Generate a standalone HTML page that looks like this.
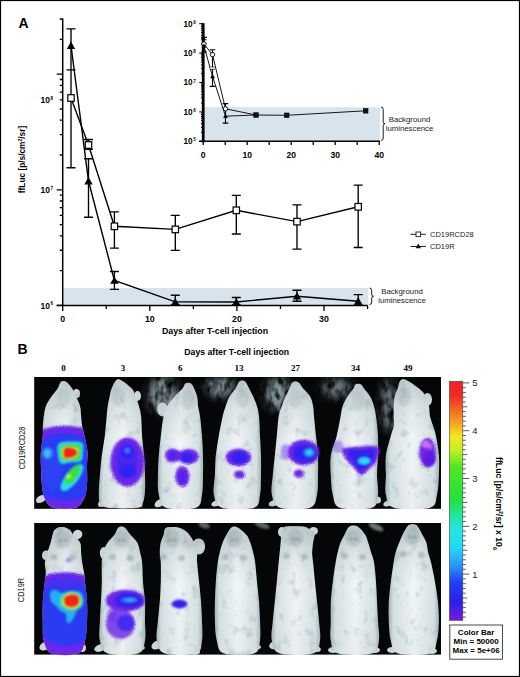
<!DOCTYPE html><html><head><meta charset="utf-8"><style>html,body{margin:0;padding:0;background:#fff;overflow:hidden}svg{display:block}text{font-family:"Liberation Sans",sans-serif}</style></head><body>
<svg width="520" height="677" viewBox="0 0 520 677">
<rect x="0" y="0" width="520" height="677" fill="#fff"/>
<rect x="62.7" y="288" width="305.6" height="17.4" fill="#d8e4ed"/>
<line x1="62.7" y1="18.5" x2="62.7" y2="306.15" stroke="#000" stroke-width="1.5"/>
<path d="M56.7,305.4H62.7M59.7,270.6H62.7M59.7,250.24H62.7M59.7,235.8H62.7M59.7,224.6H62.7M59.7,215.45H62.7M59.7,207.71H62.7M59.7,201H62.7M59.7,195.09H62.7M56.7,189.8H62.7M59.7,155H62.7M59.7,134.64H62.7M59.7,120.2H62.7M59.7,109H62.7M59.7,99.85H62.7M59.7,92.11H62.7M59.7,85.4H62.7M59.7,79.49H62.7M56.7,74.2H62.7M59.7,39.4H62.7M59.7,19.04H62.7M59.7,18.9H62.7" stroke="#000" stroke-width="1.3" fill="none"/>
<line x1="56.7" y1="305.4" x2="367.5" y2="305.4" stroke="#000" stroke-width="1.5"/>
<path d="M62.7,305.4V310.9M106.25,305.4V308.9M149.8,305.4V310.9M193.35,305.4V308.9M236.9,305.4V310.9M280.45,305.4V308.9M324,305.4V310.9M367.55,305.4V308.9" stroke="#000" stroke-width="1.3" fill="none"/>
<text x="62.7" y="322.3" font-size="8.8" font-weight="bold" text-anchor="middle">0</text>
<text x="149.8" y="322.3" font-size="8.8" font-weight="bold" text-anchor="middle">10</text>
<text x="236.9" y="322.3" font-size="8.8" font-weight="bold" text-anchor="middle">20</text>
<text x="324" y="322.3" font-size="8.8" font-weight="bold" text-anchor="middle">30</text>
<text x="49.9" y="308.6" font-size="8.5" font-weight="bold" text-anchor="end">10</text><text x="50.6" y="305.1" font-size="4.5" font-weight="bold">6</text>
<text x="49.9" y="193" font-size="8.5" font-weight="bold" text-anchor="end">10</text><text x="50.6" y="189.5" font-size="4.5" font-weight="bold">7</text>
<text x="49.9" y="103" font-size="8.5" font-weight="bold" text-anchor="end">10</text><text x="50.6" y="99.5" font-size="4.5" font-weight="bold">8</text>
<text x="215" y="333.5" font-size="8.8" font-weight="bold" text-anchor="middle">Days after T-cell injection</text>
<text transform="translate(25,159.5) rotate(-90)" font-size="8.3" font-weight="bold" text-anchor="middle">ffLuc [p/s/cm<tspan font-size="5" dy="-3">2</tspan><tspan dy="3">/sr]</tspan></text>
<path d="M71,28.9V167.7M66.5,28.9H75.5M66.5,167.7H75.5M71,28.9V69.9M66.5,28.9H75.5M66.5,69.9H75.5M88.5,139.5V149.3M84,139.5H93M84,149.3H93M88.5,158.7V217.2M84,158.7H93M84,217.2H93M114.4,211.9V248.1M109.9,211.9H118.9M109.9,248.1H118.9M114.4,271.5V289.4M109.9,271.5H118.9M109.9,289.4H118.9M175.3,215.4V250.4M170.8,215.4H179.8M170.8,250.4H179.8M175.3,295.2V305M170.8,295.2H179.8M170.8,305H179.8M236.3,195.4V234M231.8,195.4H240.8M231.8,234H240.8M236.3,297.5V305M231.8,297.5H240.8M231.8,305H240.8M297,204.9V249.1M292.5,204.9H301.5M292.5,249.1H301.5M297,290.2V301.2M292.5,290.2H301.5M292.5,301.2H301.5M358.2,185.1V247.5M353.7,185.1H362.7M353.7,247.5H362.7M358.2,294.6V305M353.7,294.6H362.7M353.7,305H362.7" stroke="#000" stroke-width="1.35" fill="none"/>
<polyline points="71,98 88.5,145 114.4,226.3 175.3,229.4 236.3,210.3 297,221.6 358.2,206.8" stroke="#000" stroke-width="1.4" fill="none"/>
<polyline points="71,45.5 88.5,181 114.4,280.4 175.3,301.9 236.3,302 297,296.2 358.2,301.2" stroke="#000" stroke-width="1.4" fill="none"/>
<rect x="67.8" y="94.7" width="6.4" height="6.6" fill="#fff" stroke="#000" stroke-width="1.2"/>
<rect x="85.3" y="141.7" width="6.4" height="6.6" fill="#fff" stroke="#000" stroke-width="1.2"/>
<rect x="111.2" y="223" width="6.4" height="6.6" fill="#fff" stroke="#000" stroke-width="1.2"/>
<rect x="172.1" y="226.1" width="6.4" height="6.6" fill="#fff" stroke="#000" stroke-width="1.2"/>
<rect x="233.1" y="207" width="6.4" height="6.6" fill="#fff" stroke="#000" stroke-width="1.2"/>
<rect x="293.8" y="218.3" width="6.4" height="6.6" fill="#fff" stroke="#000" stroke-width="1.2"/>
<rect x="355" y="203.5" width="6.4" height="6.6" fill="#fff" stroke="#000" stroke-width="1.2"/>
<path d="M71,41.5L75.2,48.9L66.8,48.9Z" fill="#000"/>
<path d="M88.5,177L92.7,184.4L84.3,184.4Z" fill="#000"/>
<path d="M114.4,276.4L118.6,283.8L110.2,283.8Z" fill="#000"/>
<path d="M175.3,297.9L179.5,305.3L171.1,305.3Z" fill="#000"/>
<path d="M236.3,298L240.5,305.4L232.1,305.4Z" fill="#000"/>
<path d="M297,292.2L301.2,299.6L292.8,299.6Z" fill="#000"/>
<path d="M358.2,297.2L362.4,304.6L354,304.6Z" fill="#000"/>
<path d="M410.5,234.3H425.8M410.5,246.5H425.8" stroke="#222" stroke-width="1"/>
<rect x="416" y="232" width="4.6" height="4.6" fill="#fff" stroke="#222" stroke-width="0.9"/>
<path d="M418.3,243.6L421,248.3L415.6,248.3Z" fill="#111"/>
<text x="430" y="237.2" font-size="7.5" fill="#222">CD19RCD28</text>
<text x="430" y="249.4" font-size="7.5" fill="#222">CD19R</text>
<path d="M369.5,288 Q371.7,288 371.7,290.5 L371.7,294.25 Q371.7,296.25 373.5,296.25 Q371.7,296.25 371.7,298.25 L371.7,302 Q371.7,304.5 369.5,304.5" stroke="#000" stroke-width="0.9" fill="none"/>
<text x="402" y="294.4" font-size="7.8" text-anchor="middle" fill="#222">Background</text>
<text x="402" y="303.2" font-size="7.8" text-anchor="middle" fill="#222">luminescence</text>
<text x="18.6" y="28" font-size="14" font-weight="bold">A</text>
<rect x="203.2" y="107.2" width="176.8" height="34.1" fill="#d8e4ed"/>
<line x1="203.2" y1="23.2" x2="203.2" y2="142.3" stroke="#000" stroke-width="2.8"/>
<path d="M199.2,141.3H203.2M201,132.45H203.2M201,127.27H203.2M201,123.6H203.2M201,120.75H203.2M201,118.42H203.2M201,116.45H203.2M201,114.75H203.2M201,113.25H203.2M199.2,111.9H203.2M201,103.05H203.2M201,97.87H203.2M201,94.2H203.2M201,91.35H203.2M201,89.02H203.2M201,87.05H203.2M201,85.35H203.2M201,83.85H203.2M199.2,82.5H203.2M201,73.65H203.2M201,68.47H203.2M201,64.8H203.2M201,61.95H203.2M201,59.62H203.2M201,57.65H203.2M201,55.95H203.2M201,54.45H203.2M199.2,53.1H203.2M201,44.25H203.2M201,39.07H203.2M201,35.4H203.2M201,32.55H203.2M201,30.22H203.2M201,28.25H203.2M201,26.55H203.2M201,25.05H203.2M199.2,23.7H203.2" stroke="#000" stroke-width="1" fill="none"/>
<line x1="199.2" y1="141.3" x2="380" y2="141.3" stroke="#000" stroke-width="1.6"/>
<path d="M203.2,141.3V145.1M225.2,141.3V145.1M247.2,141.3V145.1M269.2,141.3V145.1M291.2,141.3V145.1M313.2,141.3V145.1M335.2,141.3V145.1M357.2,141.3V145.1M379.2,141.3V145.1" stroke="#000" stroke-width="1.3" fill="none"/>
<text x="203.2" y="157.6" font-size="8.6" font-weight="bold" text-anchor="middle">0</text>
<text x="247.2" y="157.6" font-size="8.6" font-weight="bold" text-anchor="middle">10</text>
<text x="291.2" y="157.6" font-size="8.6" font-weight="bold" text-anchor="middle">20</text>
<text x="335.2" y="157.6" font-size="8.6" font-weight="bold" text-anchor="middle">30</text>
<text x="379.2" y="157.6" font-size="8.6" font-weight="bold" text-anchor="middle">40</text>
<text x="192.6" y="144.2" font-size="8.2" font-weight="bold" text-anchor="end">10</text><text x="193.2" y="141.3" font-size="4.5" font-weight="bold">5</text>
<text x="192.6" y="114.8" font-size="8.2" font-weight="bold" text-anchor="end">10</text><text x="193.2" y="111.9" font-size="4.5" font-weight="bold">6</text>
<text x="192.6" y="85.4" font-size="8.2" font-weight="bold" text-anchor="end">10</text><text x="193.2" y="82.5" font-size="4.5" font-weight="bold">7</text>
<text x="192.6" y="56" font-size="8.2" font-weight="bold" text-anchor="end">10</text><text x="193.2" y="53.1" font-size="4.5" font-weight="bold">8</text>
<text x="192.6" y="26.6" font-size="8.2" font-weight="bold" text-anchor="end">10</text><text x="193.2" y="23.7" font-size="4.5" font-weight="bold">9</text>
<polyline points="204,44 212.5,54.6 225.5,108.8 256,115 286.7,115.3 365.7,110.8" stroke="#000" stroke-width="0.9" fill="none"/>
<polyline points="204,46 212.5,76.4 225.5,116.2 256,115" stroke="#000" stroke-width="0.9" fill="none"/>
<path d="M204,37.4V52M201.2,37.4H206.8M201.2,52H206.8M212.5,49.8V86.4M209.7,49.8H215.3M209.7,86.4H215.3M225.5,103.6V123.1M222.7,103.6H228.3M222.7,123.1H228.3M201.5,39.8H206.5M209.7,67.2H215.3M209.7,69H215.3" stroke="#000" stroke-width="1.1" fill="none"/>
<rect x="210" y="67.4" width="5" height="1.4" fill="#fff"/>
<circle cx="204" cy="44" r="2.2" fill="#fff" stroke="#000" stroke-width="0.9"/>
<circle cx="212.5" cy="54.6" r="2.2" fill="#fff" stroke="#000" stroke-width="0.9"/>
<circle cx="225.5" cy="108.8" r="2.2" fill="#fff" stroke="#000" stroke-width="0.9"/>
<path d="M204,43.4L206.4,47.8L201.6,47.8Z" fill="#000"/>
<path d="M212.5,73.8L214.9,78.2L210.1,78.2Z" fill="#000"/>
<path d="M225.5,113.6L227.9,118L223.1,118Z" fill="#000"/>
<rect x="253.7" y="112.7" width="4.6" height="4.6" fill="#111" stroke="#000" stroke-width="0.6"/>
<rect x="284.4" y="113" width="4.6" height="4.6" fill="#111" stroke="#000" stroke-width="0.6"/>
<rect x="363.4" y="108.5" width="4.6" height="4.6" fill="#111" stroke="#000" stroke-width="0.6"/>
<path d="M381,107 Q383.2,107 383.2,109.5 L383.2,121.75 Q383.2,123.75 385,123.75 Q383.2,123.75 383.2,125.75 L383.2,138 Q383.2,140.5 381,140.5" stroke="#000" stroke-width="0.9" fill="none"/>
<text x="409.5" y="121.5" font-size="7.8" text-anchor="middle" fill="#222">Background</text>
<text x="409.5" y="131" font-size="7.8" text-anchor="middle" fill="#222">luminescence</text>
<text x="17.4" y="354.2" font-size="14" font-weight="bold">B</text>
<text x="236.7" y="355.2" font-size="8.7" font-weight="bold" text-anchor="middle">Days after T-cell injection</text>
<text x="63.5" y="371" font-size="9" font-weight="bold" text-anchor="middle" style="font-family:'Liberation Serif',serif">0</text>
<text x="123" y="371" font-size="9" font-weight="bold" text-anchor="middle" style="font-family:'Liberation Serif',serif">3</text>
<text x="180.2" y="371" font-size="9" font-weight="bold" text-anchor="middle" style="font-family:'Liberation Serif',serif">6</text>
<text x="239" y="371" font-size="9" font-weight="bold" text-anchor="middle" style="font-family:'Liberation Serif',serif">13</text>
<text x="295.5" y="371" font-size="9" font-weight="bold" text-anchor="middle" style="font-family:'Liberation Serif',serif">27</text>
<text x="355.4" y="371" font-size="9" font-weight="bold" text-anchor="middle" style="font-family:'Liberation Serif',serif">34</text>
<text x="408" y="371" font-size="9" font-weight="bold" text-anchor="middle" style="font-family:'Liberation Serif',serif">49</text>
<text transform="translate(24.9,448) rotate(-90)" font-size="8.6" text-anchor="middle" textLength="42.5" lengthAdjust="spacingAndGlyphs" fill="#111">CD19RCD28</text>
<text transform="translate(24.2,590) rotate(-90)" font-size="8.2" text-anchor="middle" textLength="24.5" lengthAdjust="spacingAndGlyphs" fill="#111">CD19R</text>
<defs>
<filter id="furf" x="-5%" y="-5%" width="110%" height="110%" color-interpolation-filters="sRGB"><feGaussianBlur in="SourceGraphic" stdDeviation="0.6" result="b"/><feTurbulence type="fractalNoise" baseFrequency="0.11 0.08" numOctaves="3" seed="5" result="n"/><feColorMatrix in="n" type="matrix" values="0 0 0 0 0.58  0 0 0 0 0.66  0 0 0 0 0.68  -1.4 0 0 0 0.62" result="dk"/><feComposite in="dk" in2="b" operator="in" result="d2"/><feMerge><feMergeNode in="b"/><feMergeNode in="d2"/></feMerge></filter>
<filter id="bl1" x="-40%" y="-40%" width="180%" height="180%"><feGaussianBlur stdDeviation="1.1"/></filter>
<filter id="bl2" x="-40%" y="-40%" width="180%" height="180%"><feGaussianBlur stdDeviation="1.8"/></filter>
<filter id="rag" x="-40%" y="-40%" width="180%" height="180%"><feTurbulence type="fractalNoise" baseFrequency="0.9" numOctaves="1" seed="2" result="t"/><feGaussianBlur in="SourceGraphic" stdDeviation="1" result="sb"/><feDisplacementMap in="sb" in2="t" scale="3" xChannelSelector="R" yChannelSelector="G" result="dm"/><feGaussianBlur in="dm" stdDeviation="0.35"/></filter>
<filter id="haze" x="-50%" y="-50%" width="200%" height="200%" color-interpolation-filters="sRGB"><feGaussianBlur in="SourceGraphic" stdDeviation="4" result="b"/><feTurbulence type="fractalNoise" baseFrequency="0.18 0.1" numOctaves="2" seed="9" result="n"/><feColorMatrix in="n" type="matrix" values="0 0 0 0 0.5  0 0 0 0 0.57  0 0 0 0 0.6  2.4 0 0 0 -0.5" result="na"/><feComposite in="na" in2="b" operator="in"/></filter>
<linearGradient id="cbar" x1="0" y1="0" x2="0" y2="1">
<stop offset="0" stop-color="#f0202a"/><stop offset="0.06" stop-color="#f02a24"/>
<stop offset="0.12" stop-color="#f26a22"/><stop offset="0.18" stop-color="#f7a820"/>
<stop offset="0.23" stop-color="#f5e820"/><stop offset="0.29" stop-color="#c0f020"/>
<stop offset="0.36" stop-color="#50e620"/><stop offset="0.5" stop-color="#20e240"/>
<stop offset="0.56" stop-color="#20e6a0"/><stop offset="0.62" stop-color="#22e6e0"/>
<stop offset="0.7" stop-color="#22d8f8"/><stop offset="0.78" stop-color="#2a8cf8"/>
<stop offset="0.84" stop-color="#2040f4"/><stop offset="0.92" stop-color="#2a20ec"/>
<stop offset="1" stop-color="#7a18dc"/></linearGradient>
<linearGradient id="furh" x1="0" y1="0" x2="1" y2="0">
<stop offset="0" stop-color="#a2b4b8"/><stop offset="0.1" stop-color="#d6e1e3"/><stop offset="0.5" stop-color="#f1f5f6"/><stop offset="0.9" stop-color="#d6e1e3"/><stop offset="1" stop-color="#a2b4b8"/></linearGradient>
<linearGradient id="furv" x1="0" y1="0" x2="0" y2="1">
<stop offset="0" stop-color="#7f9499" stop-opacity="0.42"/><stop offset="0.22" stop-color="#7f9499" stop-opacity="0.14"/><stop offset="0.45" stop-color="#7f9499" stop-opacity="0"/><stop offset="1" stop-color="#7f9499" stop-opacity="0.06"/></linearGradient>
<clipPath id="mc0"><path d="M66,381.8 C67.88,382.97 70.63,386.33 72.3,388.8 C73.97,391.27 74.7,393.67 76,396.6 C77.3,399.53 79.25,403.12 80.1,406.4 C80.95,409.68 80.77,413.03 81.1,416.3 C81.43,419.57 81.53,422.73 82.1,426 C82.67,429.27 83.6,431.63 84.5,435.9 C85.4,440.17 87.08,446.7 87.5,451.6 C87.92,456.5 87.08,459.73 87,465.3 C86.92,470.87 87.5,479.43 87,485 C86.5,490.57 85.97,494.9 84,498.7 C82.03,502.5 80.27,506.28 75.2,507.8 C70.13,509.32 58.67,509.32 53.6,507.8 C48.53,506.28 46.75,502.5 44.8,498.7 C42.85,494.9 42.55,490.57 41.9,485 C41.25,479.43 41.07,470.87 40.9,465.3 C40.73,459.73 40.58,456.5 40.9,451.6 C41.22,446.7 42.48,440.17 42.8,435.9 C43.12,431.63 42.63,429.27 42.8,426 C42.97,422.73 43.3,419.57 43.8,416.3 C44.3,413.03 44.52,409.68 45.8,406.4 C47.08,403.12 49.53,399.53 51.5,396.6 C53.47,393.67 56.02,391.27 57.6,388.8 C59.18,386.33 59.6,382.97 61,381.8 C62.4,380.63 64.12,380.63 66,381.8 Z"/></clipPath>
<clipPath id="mc1"><path d="M121.5,380.4 C124.17,381.8 129.67,386.1 132,388.8 C134.33,391.5 134.33,393.67 135.5,396.6 C136.67,399.53 138.07,403.12 139,406.4 C139.93,409.68 140.58,411.38 141.1,416.3 C141.62,421.22 141.62,429.37 142.1,435.9 C142.58,442.43 143.52,448.97 144,455.5 C144.48,462.03 144.83,469.22 145,475.1 C145.17,480.98 145.33,486.22 145,490.8 C144.67,495.38 144.17,499.77 143,502.6 C141.83,505.43 143.83,506.93 138,507.8 C132.17,508.67 114.35,508.67 108,507.8 C101.65,506.93 101.42,505.43 99.9,502.6 C98.38,499.77 98.9,495.38 98.9,490.8 C98.9,486.22 99.42,480.98 99.9,475.1 C100.38,469.22 100.98,462.03 101.8,455.5 C102.62,448.97 103.98,442.43 104.8,435.9 C105.62,429.37 106.22,421.22 106.7,416.3 C107.18,411.38 107.2,409.68 107.7,406.4 C108.2,403.12 109.05,399.53 109.7,396.6 C110.35,393.67 110.55,391.5 111.6,388.8 C112.65,386.1 114.35,381.8 116,380.4 C117.65,379 118.83,379 121.5,380.4 Z"/></clipPath>
<clipPath id="mc2"><path d="M191,383.4 C192.45,384.3 193.18,386.6 194.2,388.8 C195.22,391 196.45,393.67 197.1,396.6 C197.75,399.53 197.62,403.12 198.1,406.4 C198.58,409.68 199.35,411.38 200,416.3 C200.65,421.22 201.5,429.37 202,435.9 C202.5,442.43 202.83,448.97 203,455.5 C203.17,462.03 203.17,468.55 203,475.1 C202.83,481.65 203.17,489.35 202,494.8 C200.83,500.25 202,505.63 196,507.8 C190,509.97 172.2,509.97 166,507.8 C159.8,505.63 160.15,500.25 158.8,494.8 C157.45,489.35 157.9,481.65 157.9,475.1 C157.9,468.55 158.32,462.03 158.8,455.5 C159.28,448.97 160.02,442.43 160.8,435.9 C161.58,429.37 162.47,421.22 163.5,416.3 C164.53,411.38 165.17,409.68 167,406.4 C168.83,403.12 171.93,399.53 174.5,396.6 C177.07,393.67 180.57,391 182.4,388.8 C184.23,386.6 184.07,384.3 185.5,383.4 C186.93,382.5 189.55,382.5 191,383.4 Z"/></clipPath>
<clipPath id="mc3"><path d="M245,381.4 C246.62,382.63 247.85,386.27 249.2,388.8 C250.55,391.33 251.8,393.67 253.1,396.6 C254.4,399.53 256.02,403.12 257,406.4 C257.98,409.68 258.5,411.38 259,416.3 C259.5,421.22 259.67,429.37 260,435.9 C260.33,442.43 260.83,448.97 261,455.5 C261.17,462.03 261.17,468.55 261,475.1 C260.83,481.65 261.17,489.35 260,494.8 C258.83,500.25 260.33,505.63 254,507.8 C247.67,509.97 228.68,509.97 222,507.8 C215.32,505.63 215.08,500.25 213.9,494.8 C212.72,489.35 214.58,481.65 214.9,475.1 C215.22,468.55 215.15,462.03 215.8,455.5 C216.45,448.97 217.65,442.43 218.8,435.9 C219.95,429.37 221.57,421.22 222.7,416.3 C223.83,411.38 224.45,409.68 225.6,406.4 C226.75,403.12 227.95,399.53 229.6,396.6 C231.25,393.67 233.85,391.33 235.5,388.8 C237.15,386.27 237.92,382.63 239.5,381.4 C241.08,380.17 243.38,380.17 245,381.4 Z"/></clipPath>
<clipPath id="mc4"><path d="M298.5,382.4 C300.3,383.47 301.37,386.43 303.3,388.8 C305.23,391.17 308.47,393.67 310.1,396.6 C311.73,399.53 312.45,403.12 313.1,406.4 C313.75,409.68 313.52,411.38 314,416.3 C314.48,421.22 315.33,429.37 316,435.9 C316.67,442.43 317.67,448.97 318,455.5 C318.33,462.03 318.17,468.55 318,475.1 C317.83,481.65 318.33,489.35 317,494.8 C315.67,500.25 316.17,505.63 310,507.8 C303.83,509.97 286.35,509.97 280,507.8 C273.65,505.63 273.1,500.25 271.9,494.8 C270.7,489.35 272.32,481.65 272.8,475.1 C273.28,468.55 274.13,462.03 274.8,455.5 C275.47,448.97 276.15,442.43 276.8,435.9 C277.45,429.37 277.88,421.22 278.7,416.3 C279.52,411.38 280.55,409.68 281.7,406.4 C282.85,403.12 284.3,399.53 285.6,396.6 C286.9,393.67 288.35,391.17 289.5,388.8 C290.65,386.43 291,383.47 292.5,382.4 C294,381.33 296.7,381.33 298.5,382.4 Z"/></clipPath>
<clipPath id="mc5"><path d="M361,384.4 C362.45,385.13 362.68,386.77 364.2,388.8 C365.72,390.83 368.47,393.67 370.1,396.6 C371.73,399.53 373.02,403.12 374,406.4 C374.98,409.68 375.33,411.38 376,416.3 C376.67,421.22 377.67,429.37 378,435.9 C378.33,442.43 378.17,448.97 378,455.5 C377.83,462.03 377,468.55 377,475.1 C377,481.65 378.83,489.35 378,494.8 C377.17,500.25 378.33,505.63 372,507.8 C365.67,509.97 346.53,509.97 340,507.8 C333.47,505.63 334.33,500.25 332.8,494.8 C331.27,489.35 331.13,481.65 330.8,475.1 C330.47,468.55 329.82,462.03 330.8,455.5 C331.78,448.97 335.07,442.43 336.7,435.9 C338.33,429.37 339.62,421.22 340.6,416.3 C341.58,411.38 341.45,409.68 342.6,406.4 C343.75,403.12 345.7,399.53 347.5,396.6 C349.3,393.67 352.07,390.83 353.4,388.8 C354.73,386.77 354.23,385.13 355.5,384.4 C356.77,383.67 359.55,383.67 361,384.4 Z"/></clipPath>
<clipPath id="mc6"><path d="M407,380.4 C410.13,381.8 416.13,386.1 419.3,388.8 C422.47,391.5 424.38,393.67 426,396.6 C427.62,399.53 428.33,403.12 429,406.4 C429.67,409.68 429.33,413.03 430,416.3 C430.67,419.57 432,422.73 433,426 C434,429.27 435.02,430.98 436,435.9 C436.98,440.82 438.42,448.97 438.9,455.5 C439.38,462.03 439.22,468.55 438.9,475.1 C438.58,481.65 438.48,489.35 437,494.8 C435.52,500.25 437.17,505.63 430,507.8 C422.83,509.97 401.35,509.97 394,507.8 C386.65,505.63 387.25,500.25 385.9,494.8 C384.55,489.35 385.9,481.65 385.9,475.1 C385.9,468.55 385.08,462.03 385.9,455.5 C386.72,448.97 389.5,440.82 390.8,435.9 C392.1,430.98 393.22,429.27 393.7,426 C394.18,422.73 393.7,419.57 393.7,416.3 C393.7,413.03 393.53,409.68 393.7,406.4 C393.87,403.12 394.03,399.53 394.7,396.6 C395.37,393.67 396.73,391.5 397.7,388.8 C398.67,386.1 398.95,381.8 400.5,380.4 C402.05,379 403.87,379 407,380.4 Z"/></clipPath>
<clipPath id="mc7"><path d="M65,527.4 C66.96,527.89 68.9,529.13 70.23,530.36 C71.56,531.59 71.36,532.76 73,534.8 C74.64,536.84 78.75,539.67 80.1,542.6 C81.45,545.53 80.77,549.12 81.1,552.4 C81.43,555.68 81.62,559.02 82.1,562.3 C82.58,565.58 83.52,568.83 84,572.1 C84.48,575.37 84.5,577 85,581.9 C85.5,586.8 86.67,594.97 87,601.5 C87.33,608.03 87.33,614.55 87,621.1 C86.67,627.65 86.5,635.38 85,640.8 C83.5,646.22 83.5,651.47 78,653.6 C72.5,655.73 57.7,655.73 52,653.6 C46.3,651.47 45.33,646.22 43.8,640.8 C42.27,635.38 42.97,627.65 42.8,621.1 C42.63,614.55 42.47,608.03 42.8,601.5 C43.13,594.97 44.3,586.8 44.8,581.9 C45.3,577 45.8,575.37 45.8,572.1 C45.8,568.83 44.52,565.58 44.8,562.3 C45.08,559.02 46.52,555.68 47.5,552.4 C48.48,549.12 49.85,545.53 50.7,542.6 C51.55,539.67 52,536.84 52.6,534.8 C53.2,532.76 53.34,531.59 54.32,530.36 C55.3,529.13 56.72,527.89 58.5,527.4 C60.28,526.91 63.04,526.91 65,527.4 Z"/></clipPath>
<clipPath id="mc8"><path d="M124.5,527.4 C126.47,528.63 128.18,532.27 130.3,534.8 C132.42,537.33 135.57,539.67 137.2,542.6 C138.83,545.53 139.28,549.12 140.1,552.4 C140.92,555.68 141.62,557.38 142.1,562.3 C142.58,567.22 142.52,575.37 143,581.9 C143.48,588.43 144.67,594.97 145,601.5 C145.33,608.03 145,614.55 145,621.1 C145,627.65 146.17,635.38 145,640.8 C143.83,646.22 144.17,651.47 138,653.6 C131.83,655.73 114.35,655.73 108,653.6 C101.65,651.47 101.25,646.22 99.9,640.8 C98.55,635.38 99.73,627.65 99.9,621.1 C100.07,614.55 100.58,608.03 100.9,601.5 C101.22,594.97 101.65,588.43 101.8,581.9 C101.95,575.37 101.6,567.22 101.8,562.3 C102,557.38 102.02,555.68 103,552.4 C103.98,549.12 105.77,545.53 107.7,542.6 C109.63,539.67 112.8,537.33 114.6,534.8 C116.4,532.27 116.85,528.63 118.5,527.4 C120.15,526.17 122.53,526.17 124.5,527.4 Z"/></clipPath>
<clipPath id="mc9"><path d="M178,527.4 C180.91,527.89 182.6,529.13 184.48,530.36 C186.37,531.59 187.71,532.76 189.3,534.8 C190.89,536.84 192.72,539.67 194,542.6 C195.28,545.53 196.48,549.12 197,552.4 C197.52,555.68 196.75,557.38 197.1,562.3 C197.45,567.22 198.45,575.37 199.1,581.9 C199.75,588.43 200.52,594.97 201,601.5 C201.48,608.03 201.83,614.55 202,621.1 C202.17,627.65 203,635.38 202,640.8 C201,646.22 202.17,651.47 196,653.6 C189.83,655.73 171.52,655.73 165,653.6 C158.48,651.47 158.08,646.22 156.9,640.8 C155.72,635.38 157.42,627.65 157.9,621.1 C158.38,614.55 159.32,608.03 159.8,601.5 C160.28,594.97 160.63,588.43 160.8,581.9 C160.97,575.37 160.97,567.22 160.8,562.3 C160.63,557.38 159.8,555.68 159.8,552.4 C159.8,549.12 160.15,545.53 160.8,542.6 C161.45,539.67 163.08,536.84 163.7,534.8 C164.32,532.76 163.97,531.59 164.52,530.36 C165.07,529.13 164.75,527.89 167,527.4 C169.25,526.91 175.09,526.91 178,527.4 Z"/></clipPath>
<clipPath id="mc10"><path d="M237.5,527.4 C239.97,528.63 244.18,532.27 246.3,534.8 C248.42,537.33 249.07,539.67 250.2,542.6 C251.33,545.53 252.28,549.12 253.1,552.4 C253.92,555.68 254.45,557.38 255.1,562.3 C255.75,567.22 256.35,575.37 257,581.9 C257.65,588.43 258.5,594.97 259,601.5 C259.5,608.03 259.83,614.55 260,621.1 C260.17,627.65 261,635.38 260,640.8 C259,646.22 260,651.47 254,653.6 C248,655.73 230.2,655.73 224,653.6 C217.8,651.47 218.32,646.22 216.8,640.8 C215.28,635.38 215.22,627.65 214.9,621.1 C214.58,614.55 214.75,608.03 214.9,601.5 C215.05,594.97 215.32,588.43 215.8,581.9 C216.28,575.37 217.13,567.22 217.8,562.3 C218.47,557.38 218.98,555.68 219.8,552.4 C220.62,549.12 221.57,545.53 222.7,542.6 C223.83,539.67 225.13,537.33 226.6,534.8 C228.07,532.27 229.68,528.63 231.5,527.4 C233.32,526.17 235.03,526.17 237.5,527.4 Z"/></clipPath>
<clipPath id="mc11"><path d="M303,526.6 C306.85,527.01 307.2,528.05 309.12,529.08 C311.04,530.11 313.84,530.55 314.5,532.8 C315.16,535.05 313.5,539.33 313.1,542.6 C312.7,545.87 312.1,549.12 312.1,552.4 C312.1,555.68 312.62,557.38 313.1,562.3 C313.58,567.22 314.35,575.37 315,581.9 C315.65,588.43 316.33,594.97 317,601.5 C317.67,608.03 318.5,614.55 319,621.1 C319.5,627.65 321,635.38 320,640.8 C319,646.22 319.67,651.47 313,653.6 C306.33,655.73 286.85,655.73 280,653.6 C273.15,651.47 273.1,646.22 271.9,640.8 C270.7,635.38 272.32,627.65 272.8,621.1 C273.28,614.55 274.13,608.03 274.8,601.5 C275.47,594.97 276.15,588.43 276.8,581.9 C277.45,575.37 278.22,567.22 278.7,562.3 C279.18,557.38 279.37,555.68 279.7,552.4 C280.03,549.12 280.4,545.87 280.7,542.6 C281,539.33 281.05,535.05 281.5,532.8 C281.95,530.55 282.63,530.11 283.38,529.08 C284.13,528.05 282.73,527.01 286,526.6 C289.27,526.19 299.15,526.19 303,526.6 Z"/></clipPath>
<clipPath id="mc12"><path d="M357.5,526.6 C360.12,527.97 363.43,532.13 365.2,534.8 C366.97,537.47 367.12,539.67 368.1,542.6 C369.08,545.53 370.12,549.12 371.1,552.4 C372.08,555.68 373.18,557.38 374,562.3 C374.82,567.22 375.5,575.37 376,581.9 C376.5,588.43 376.67,594.97 377,601.5 C377.33,608.03 377.68,614.55 378,621.1 C378.32,627.65 379.9,635.38 378.9,640.8 C377.9,646.22 378.82,651.47 372,653.6 C365.18,655.73 344.87,655.73 338,653.6 C331.13,651.47 332,646.22 330.8,640.8 C329.6,635.38 330.8,627.65 330.8,621.1 C330.8,614.55 330.47,608.03 330.8,601.5 C331.13,594.97 331.98,588.43 332.8,581.9 C333.62,575.37 334.88,567.22 335.7,562.3 C336.52,557.38 336.88,555.68 337.7,552.4 C338.52,549.12 339.45,545.53 340.6,542.6 C341.75,539.67 343.12,537.47 344.6,534.8 C346.08,532.13 347.35,527.97 349.5,526.6 C351.65,525.23 354.88,525.23 357.5,526.6 Z"/></clipPath>
<clipPath id="mc13"><path d="M415.7,524.8 C417.4,525.58 418.37,527.8 419.5,529.5 C420.63,531.2 421.37,532.82 422.5,535 C423.63,537.18 425.37,539.7 426.3,542.6 C427.23,545.5 427.32,549.12 428.1,552.4 C428.88,555.68 429.85,557.38 431,562.3 C432.15,567.22 433.85,575.37 435,581.9 C436.15,588.43 437.25,594.97 437.9,601.5 C438.55,608.03 439.07,614.55 438.9,621.1 C438.73,627.65 438.38,635.38 436.9,640.8 C435.42,646.22 436.48,651.47 430,653.6 C423.52,655.73 404.53,655.73 398,653.6 C391.47,651.47 392.33,646.22 390.8,640.8 C389.27,635.38 389.13,627.65 388.8,621.1 C388.47,614.55 388.47,608.03 388.8,601.5 C389.13,594.97 389.98,588.43 390.8,581.9 C391.62,575.37 392.88,567.22 393.7,562.3 C394.52,557.38 394.77,555.68 395.7,552.4 C396.63,549.12 398.17,545.5 399.3,542.6 C400.43,539.7 401.47,537.18 402.5,535 C403.53,532.82 404.37,531.2 405.5,529.5 C406.63,527.8 407.6,525.58 409.3,524.8 C411,524.02 414,524.02 415.7,524.8 Z"/></clipPath>
<clipPath id="r1clip"><rect x="34.2" y="377" width="406.8" height="131.8"/></clipPath>
<clipPath id="r2clip"><rect x="34.2" y="523" width="406.8" height="131.6"/></clipPath>
</defs>
<rect x="34.2" y="377" width="406.8" height="131.8" fill="#050607"/>
<rect x="34.2" y="523" width="406.8" height="131.6" fill="#050607"/>
<g clip-path="url(#r1clip)"><g filter="url(#haze)"><ellipse cx="163" cy="395" rx="15" ry="18" fill="#000"/><ellipse cx="220" cy="387" rx="14" ry="10" fill="#000"/><ellipse cx="278" cy="394" rx="13" ry="17" fill="#000"/><ellipse cx="337" cy="388" rx="15" ry="10" fill="#000" opacity="0.8"/><ellipse cx="389" cy="405" rx="8" ry="26" fill="#000" opacity="0.8"/></g></g>
<g clip-path="url(#r2clip)"><g filter="url(#bl1)"><ellipse cx="204" cy="525" rx="6" ry="3" fill="#5a6466" transform="rotate(20 204 525)"/><ellipse cx="262" cy="525" rx="8" ry="3" fill="#5a6466" transform="rotate(20 262 525)"/><ellipse cx="376" cy="527" rx="8" ry="3" fill="#6a7476" transform="rotate(25 376 527)"/></g></g>
<g filter="url(#furf)"><ellipse cx="41" cy="499" rx="5.5" ry="3.5" fill="#cdd5d8" transform="rotate(-30 41 499)"/><ellipse cx="103" cy="503" rx="5.5" ry="3.5" fill="#cdd5d8" transform="rotate(-30 103 503)"/><ellipse cx="160" cy="503" rx="6" ry="3.5" fill="#cdd5d8" transform="rotate(-30 160 503)"/><ellipse cx="217" cy="503" rx="6" ry="3" fill="#cdd5d8" transform="rotate(-20 217 503)"/><ellipse cx="233" cy="505" rx="4" ry="2.5" fill="#cdd5d8"/><ellipse cx="274" cy="503" rx="5.5" ry="3" fill="#cdd5d8" transform="rotate(-20 274 503)"/><ellipse cx="377" cy="500" rx="4" ry="3.5" fill="#cdd5d8"/><ellipse cx="389" cy="503" rx="6" ry="3" fill="#cdd5d8" transform="rotate(-20 389 503)"/><ellipse cx="45" cy="646" rx="6" ry="4" fill="#cdd5d8" transform="rotate(-30 45 646)"/><ellipse cx="82" cy="648" rx="4" ry="4" fill="#cdd5d8"/><ellipse cx="100" cy="648" rx="6" ry="3.5" fill="#cdd5d8" transform="rotate(-20 100 648)"/><ellipse cx="139" cy="647" rx="6" ry="3" fill="#cdd5d8" transform="rotate(10 139 647)"/><ellipse cx="157" cy="645" rx="6" ry="4" fill="#cdd5d8" transform="rotate(-30 157 645)"/><ellipse cx="195" cy="652" rx="5" ry="3" fill="#cdd5d8"/><ellipse cx="230" cy="650" rx="4" ry="4" fill="#cdd5d8"/><ellipse cx="255" cy="647" rx="6" ry="3" fill="#cdd5d8"/><ellipse cx="275" cy="645" rx="6" ry="4" fill="#cdd5d8" transform="rotate(-20 275 645)"/><ellipse cx="316" cy="649" rx="5" ry="3" fill="#cdd5d8" transform="rotate(10 316 649)"/><ellipse cx="333" cy="650" rx="5" ry="3" fill="#cdd5d8"/><ellipse cx="375" cy="650" rx="5" ry="3" fill="#cdd5d8"/><ellipse cx="392" cy="650" rx="5" ry="3" fill="#cdd5d8"/><ellipse cx="432" cy="651" rx="5" ry="3" fill="#cdd5d8"/><ellipse cx="76.5" cy="393.5" rx="3.5" ry="4.5" fill="#cdd6d8"/><ellipse cx="137.5" cy="396" rx="3.5" ry="5" fill="#cdd6d8"/><ellipse cx="162.5" cy="409.4" rx="5.4" ry="7" fill="#c8d1d4"/><ellipse cx="427.5" cy="399.5" rx="4.5" ry="6.5" fill="#cdd6d8"/><ellipse cx="77.5" cy="534.5" rx="5" ry="4.5" fill="#cdd6d8" transform="rotate(-30 77.5 534.5)"/><ellipse cx="46.5" cy="555.4" rx="4.5" ry="5" fill="#cdd6d8"/><ellipse cx="103.8" cy="553" rx="4" ry="6" fill="#cdd6d8"/><ellipse cx="198.6" cy="546.5" rx="6.5" ry="8" fill="#c8d1d4"/><ellipse cx="282" cy="532" rx="4" ry="5" fill="#cdd6d8"/><ellipse cx="313.5" cy="531" rx="4.5" ry="4" fill="#cdd6d8"/><path d="M66,381.8 C67.88,382.97 70.63,386.33 72.3,388.8 C73.97,391.27 74.7,393.67 76,396.6 C77.3,399.53 79.25,403.12 80.1,406.4 C80.95,409.68 80.77,413.03 81.1,416.3 C81.43,419.57 81.53,422.73 82.1,426 C82.67,429.27 83.6,431.63 84.5,435.9 C85.4,440.17 87.08,446.7 87.5,451.6 C87.92,456.5 87.08,459.73 87,465.3 C86.92,470.87 87.5,479.43 87,485 C86.5,490.57 85.97,494.9 84,498.7 C82.03,502.5 80.27,506.28 75.2,507.8 C70.13,509.32 58.67,509.32 53.6,507.8 C48.53,506.28 46.75,502.5 44.8,498.7 C42.85,494.9 42.55,490.57 41.9,485 C41.25,479.43 41.07,470.87 40.9,465.3 C40.73,459.73 40.58,456.5 40.9,451.6 C41.22,446.7 42.48,440.17 42.8,435.9 C43.12,431.63 42.63,429.27 42.8,426 C42.97,422.73 43.3,419.57 43.8,416.3 C44.3,413.03 44.52,409.68 45.8,406.4 C47.08,403.12 49.53,399.53 51.5,396.6 C53.47,393.67 56.02,391.27 57.6,388.8 C59.18,386.33 59.6,382.97 61,381.8 C62.4,380.63 64.12,380.63 66,381.8 Z" fill="url(#furh)"/><path d="M66,381.8 C67.88,382.97 70.63,386.33 72.3,388.8 C73.97,391.27 74.7,393.67 76,396.6 C77.3,399.53 79.25,403.12 80.1,406.4 C80.95,409.68 80.77,413.03 81.1,416.3 C81.43,419.57 81.53,422.73 82.1,426 C82.67,429.27 83.6,431.63 84.5,435.9 C85.4,440.17 87.08,446.7 87.5,451.6 C87.92,456.5 87.08,459.73 87,465.3 C86.92,470.87 87.5,479.43 87,485 C86.5,490.57 85.97,494.9 84,498.7 C82.03,502.5 80.27,506.28 75.2,507.8 C70.13,509.32 58.67,509.32 53.6,507.8 C48.53,506.28 46.75,502.5 44.8,498.7 C42.85,494.9 42.55,490.57 41.9,485 C41.25,479.43 41.07,470.87 40.9,465.3 C40.73,459.73 40.58,456.5 40.9,451.6 C41.22,446.7 42.48,440.17 42.8,435.9 C43.12,431.63 42.63,429.27 42.8,426 C42.97,422.73 43.3,419.57 43.8,416.3 C44.3,413.03 44.52,409.68 45.8,406.4 C47.08,403.12 49.53,399.53 51.5,396.6 C53.47,393.67 56.02,391.27 57.6,388.8 C59.18,386.33 59.6,382.97 61,381.8 C62.4,380.63 64.12,380.63 66,381.8 Z" fill="url(#furv)"/><path d="M121.5,380.4 C124.17,381.8 129.67,386.1 132,388.8 C134.33,391.5 134.33,393.67 135.5,396.6 C136.67,399.53 138.07,403.12 139,406.4 C139.93,409.68 140.58,411.38 141.1,416.3 C141.62,421.22 141.62,429.37 142.1,435.9 C142.58,442.43 143.52,448.97 144,455.5 C144.48,462.03 144.83,469.22 145,475.1 C145.17,480.98 145.33,486.22 145,490.8 C144.67,495.38 144.17,499.77 143,502.6 C141.83,505.43 143.83,506.93 138,507.8 C132.17,508.67 114.35,508.67 108,507.8 C101.65,506.93 101.42,505.43 99.9,502.6 C98.38,499.77 98.9,495.38 98.9,490.8 C98.9,486.22 99.42,480.98 99.9,475.1 C100.38,469.22 100.98,462.03 101.8,455.5 C102.62,448.97 103.98,442.43 104.8,435.9 C105.62,429.37 106.22,421.22 106.7,416.3 C107.18,411.38 107.2,409.68 107.7,406.4 C108.2,403.12 109.05,399.53 109.7,396.6 C110.35,393.67 110.55,391.5 111.6,388.8 C112.65,386.1 114.35,381.8 116,380.4 C117.65,379 118.83,379 121.5,380.4 Z" fill="url(#furh)"/><path d="M121.5,380.4 C124.17,381.8 129.67,386.1 132,388.8 C134.33,391.5 134.33,393.67 135.5,396.6 C136.67,399.53 138.07,403.12 139,406.4 C139.93,409.68 140.58,411.38 141.1,416.3 C141.62,421.22 141.62,429.37 142.1,435.9 C142.58,442.43 143.52,448.97 144,455.5 C144.48,462.03 144.83,469.22 145,475.1 C145.17,480.98 145.33,486.22 145,490.8 C144.67,495.38 144.17,499.77 143,502.6 C141.83,505.43 143.83,506.93 138,507.8 C132.17,508.67 114.35,508.67 108,507.8 C101.65,506.93 101.42,505.43 99.9,502.6 C98.38,499.77 98.9,495.38 98.9,490.8 C98.9,486.22 99.42,480.98 99.9,475.1 C100.38,469.22 100.98,462.03 101.8,455.5 C102.62,448.97 103.98,442.43 104.8,435.9 C105.62,429.37 106.22,421.22 106.7,416.3 C107.18,411.38 107.2,409.68 107.7,406.4 C108.2,403.12 109.05,399.53 109.7,396.6 C110.35,393.67 110.55,391.5 111.6,388.8 C112.65,386.1 114.35,381.8 116,380.4 C117.65,379 118.83,379 121.5,380.4 Z" fill="url(#furv)"/><path d="M191,383.4 C192.45,384.3 193.18,386.6 194.2,388.8 C195.22,391 196.45,393.67 197.1,396.6 C197.75,399.53 197.62,403.12 198.1,406.4 C198.58,409.68 199.35,411.38 200,416.3 C200.65,421.22 201.5,429.37 202,435.9 C202.5,442.43 202.83,448.97 203,455.5 C203.17,462.03 203.17,468.55 203,475.1 C202.83,481.65 203.17,489.35 202,494.8 C200.83,500.25 202,505.63 196,507.8 C190,509.97 172.2,509.97 166,507.8 C159.8,505.63 160.15,500.25 158.8,494.8 C157.45,489.35 157.9,481.65 157.9,475.1 C157.9,468.55 158.32,462.03 158.8,455.5 C159.28,448.97 160.02,442.43 160.8,435.9 C161.58,429.37 162.47,421.22 163.5,416.3 C164.53,411.38 165.17,409.68 167,406.4 C168.83,403.12 171.93,399.53 174.5,396.6 C177.07,393.67 180.57,391 182.4,388.8 C184.23,386.6 184.07,384.3 185.5,383.4 C186.93,382.5 189.55,382.5 191,383.4 Z" fill="url(#furh)"/><path d="M191,383.4 C192.45,384.3 193.18,386.6 194.2,388.8 C195.22,391 196.45,393.67 197.1,396.6 C197.75,399.53 197.62,403.12 198.1,406.4 C198.58,409.68 199.35,411.38 200,416.3 C200.65,421.22 201.5,429.37 202,435.9 C202.5,442.43 202.83,448.97 203,455.5 C203.17,462.03 203.17,468.55 203,475.1 C202.83,481.65 203.17,489.35 202,494.8 C200.83,500.25 202,505.63 196,507.8 C190,509.97 172.2,509.97 166,507.8 C159.8,505.63 160.15,500.25 158.8,494.8 C157.45,489.35 157.9,481.65 157.9,475.1 C157.9,468.55 158.32,462.03 158.8,455.5 C159.28,448.97 160.02,442.43 160.8,435.9 C161.58,429.37 162.47,421.22 163.5,416.3 C164.53,411.38 165.17,409.68 167,406.4 C168.83,403.12 171.93,399.53 174.5,396.6 C177.07,393.67 180.57,391 182.4,388.8 C184.23,386.6 184.07,384.3 185.5,383.4 C186.93,382.5 189.55,382.5 191,383.4 Z" fill="url(#furv)"/><path d="M245,381.4 C246.62,382.63 247.85,386.27 249.2,388.8 C250.55,391.33 251.8,393.67 253.1,396.6 C254.4,399.53 256.02,403.12 257,406.4 C257.98,409.68 258.5,411.38 259,416.3 C259.5,421.22 259.67,429.37 260,435.9 C260.33,442.43 260.83,448.97 261,455.5 C261.17,462.03 261.17,468.55 261,475.1 C260.83,481.65 261.17,489.35 260,494.8 C258.83,500.25 260.33,505.63 254,507.8 C247.67,509.97 228.68,509.97 222,507.8 C215.32,505.63 215.08,500.25 213.9,494.8 C212.72,489.35 214.58,481.65 214.9,475.1 C215.22,468.55 215.15,462.03 215.8,455.5 C216.45,448.97 217.65,442.43 218.8,435.9 C219.95,429.37 221.57,421.22 222.7,416.3 C223.83,411.38 224.45,409.68 225.6,406.4 C226.75,403.12 227.95,399.53 229.6,396.6 C231.25,393.67 233.85,391.33 235.5,388.8 C237.15,386.27 237.92,382.63 239.5,381.4 C241.08,380.17 243.38,380.17 245,381.4 Z" fill="url(#furh)"/><path d="M245,381.4 C246.62,382.63 247.85,386.27 249.2,388.8 C250.55,391.33 251.8,393.67 253.1,396.6 C254.4,399.53 256.02,403.12 257,406.4 C257.98,409.68 258.5,411.38 259,416.3 C259.5,421.22 259.67,429.37 260,435.9 C260.33,442.43 260.83,448.97 261,455.5 C261.17,462.03 261.17,468.55 261,475.1 C260.83,481.65 261.17,489.35 260,494.8 C258.83,500.25 260.33,505.63 254,507.8 C247.67,509.97 228.68,509.97 222,507.8 C215.32,505.63 215.08,500.25 213.9,494.8 C212.72,489.35 214.58,481.65 214.9,475.1 C215.22,468.55 215.15,462.03 215.8,455.5 C216.45,448.97 217.65,442.43 218.8,435.9 C219.95,429.37 221.57,421.22 222.7,416.3 C223.83,411.38 224.45,409.68 225.6,406.4 C226.75,403.12 227.95,399.53 229.6,396.6 C231.25,393.67 233.85,391.33 235.5,388.8 C237.15,386.27 237.92,382.63 239.5,381.4 C241.08,380.17 243.38,380.17 245,381.4 Z" fill="url(#furv)"/><path d="M298.5,382.4 C300.3,383.47 301.37,386.43 303.3,388.8 C305.23,391.17 308.47,393.67 310.1,396.6 C311.73,399.53 312.45,403.12 313.1,406.4 C313.75,409.68 313.52,411.38 314,416.3 C314.48,421.22 315.33,429.37 316,435.9 C316.67,442.43 317.67,448.97 318,455.5 C318.33,462.03 318.17,468.55 318,475.1 C317.83,481.65 318.33,489.35 317,494.8 C315.67,500.25 316.17,505.63 310,507.8 C303.83,509.97 286.35,509.97 280,507.8 C273.65,505.63 273.1,500.25 271.9,494.8 C270.7,489.35 272.32,481.65 272.8,475.1 C273.28,468.55 274.13,462.03 274.8,455.5 C275.47,448.97 276.15,442.43 276.8,435.9 C277.45,429.37 277.88,421.22 278.7,416.3 C279.52,411.38 280.55,409.68 281.7,406.4 C282.85,403.12 284.3,399.53 285.6,396.6 C286.9,393.67 288.35,391.17 289.5,388.8 C290.65,386.43 291,383.47 292.5,382.4 C294,381.33 296.7,381.33 298.5,382.4 Z" fill="url(#furh)"/><path d="M298.5,382.4 C300.3,383.47 301.37,386.43 303.3,388.8 C305.23,391.17 308.47,393.67 310.1,396.6 C311.73,399.53 312.45,403.12 313.1,406.4 C313.75,409.68 313.52,411.38 314,416.3 C314.48,421.22 315.33,429.37 316,435.9 C316.67,442.43 317.67,448.97 318,455.5 C318.33,462.03 318.17,468.55 318,475.1 C317.83,481.65 318.33,489.35 317,494.8 C315.67,500.25 316.17,505.63 310,507.8 C303.83,509.97 286.35,509.97 280,507.8 C273.65,505.63 273.1,500.25 271.9,494.8 C270.7,489.35 272.32,481.65 272.8,475.1 C273.28,468.55 274.13,462.03 274.8,455.5 C275.47,448.97 276.15,442.43 276.8,435.9 C277.45,429.37 277.88,421.22 278.7,416.3 C279.52,411.38 280.55,409.68 281.7,406.4 C282.85,403.12 284.3,399.53 285.6,396.6 C286.9,393.67 288.35,391.17 289.5,388.8 C290.65,386.43 291,383.47 292.5,382.4 C294,381.33 296.7,381.33 298.5,382.4 Z" fill="url(#furv)"/><path d="M361,384.4 C362.45,385.13 362.68,386.77 364.2,388.8 C365.72,390.83 368.47,393.67 370.1,396.6 C371.73,399.53 373.02,403.12 374,406.4 C374.98,409.68 375.33,411.38 376,416.3 C376.67,421.22 377.67,429.37 378,435.9 C378.33,442.43 378.17,448.97 378,455.5 C377.83,462.03 377,468.55 377,475.1 C377,481.65 378.83,489.35 378,494.8 C377.17,500.25 378.33,505.63 372,507.8 C365.67,509.97 346.53,509.97 340,507.8 C333.47,505.63 334.33,500.25 332.8,494.8 C331.27,489.35 331.13,481.65 330.8,475.1 C330.47,468.55 329.82,462.03 330.8,455.5 C331.78,448.97 335.07,442.43 336.7,435.9 C338.33,429.37 339.62,421.22 340.6,416.3 C341.58,411.38 341.45,409.68 342.6,406.4 C343.75,403.12 345.7,399.53 347.5,396.6 C349.3,393.67 352.07,390.83 353.4,388.8 C354.73,386.77 354.23,385.13 355.5,384.4 C356.77,383.67 359.55,383.67 361,384.4 Z" fill="url(#furh)"/><path d="M361,384.4 C362.45,385.13 362.68,386.77 364.2,388.8 C365.72,390.83 368.47,393.67 370.1,396.6 C371.73,399.53 373.02,403.12 374,406.4 C374.98,409.68 375.33,411.38 376,416.3 C376.67,421.22 377.67,429.37 378,435.9 C378.33,442.43 378.17,448.97 378,455.5 C377.83,462.03 377,468.55 377,475.1 C377,481.65 378.83,489.35 378,494.8 C377.17,500.25 378.33,505.63 372,507.8 C365.67,509.97 346.53,509.97 340,507.8 C333.47,505.63 334.33,500.25 332.8,494.8 C331.27,489.35 331.13,481.65 330.8,475.1 C330.47,468.55 329.82,462.03 330.8,455.5 C331.78,448.97 335.07,442.43 336.7,435.9 C338.33,429.37 339.62,421.22 340.6,416.3 C341.58,411.38 341.45,409.68 342.6,406.4 C343.75,403.12 345.7,399.53 347.5,396.6 C349.3,393.67 352.07,390.83 353.4,388.8 C354.73,386.77 354.23,385.13 355.5,384.4 C356.77,383.67 359.55,383.67 361,384.4 Z" fill="url(#furv)"/><path d="M407,380.4 C410.13,381.8 416.13,386.1 419.3,388.8 C422.47,391.5 424.38,393.67 426,396.6 C427.62,399.53 428.33,403.12 429,406.4 C429.67,409.68 429.33,413.03 430,416.3 C430.67,419.57 432,422.73 433,426 C434,429.27 435.02,430.98 436,435.9 C436.98,440.82 438.42,448.97 438.9,455.5 C439.38,462.03 439.22,468.55 438.9,475.1 C438.58,481.65 438.48,489.35 437,494.8 C435.52,500.25 437.17,505.63 430,507.8 C422.83,509.97 401.35,509.97 394,507.8 C386.65,505.63 387.25,500.25 385.9,494.8 C384.55,489.35 385.9,481.65 385.9,475.1 C385.9,468.55 385.08,462.03 385.9,455.5 C386.72,448.97 389.5,440.82 390.8,435.9 C392.1,430.98 393.22,429.27 393.7,426 C394.18,422.73 393.7,419.57 393.7,416.3 C393.7,413.03 393.53,409.68 393.7,406.4 C393.87,403.12 394.03,399.53 394.7,396.6 C395.37,393.67 396.73,391.5 397.7,388.8 C398.67,386.1 398.95,381.8 400.5,380.4 C402.05,379 403.87,379 407,380.4 Z" fill="url(#furh)"/><path d="M407,380.4 C410.13,381.8 416.13,386.1 419.3,388.8 C422.47,391.5 424.38,393.67 426,396.6 C427.62,399.53 428.33,403.12 429,406.4 C429.67,409.68 429.33,413.03 430,416.3 C430.67,419.57 432,422.73 433,426 C434,429.27 435.02,430.98 436,435.9 C436.98,440.82 438.42,448.97 438.9,455.5 C439.38,462.03 439.22,468.55 438.9,475.1 C438.58,481.65 438.48,489.35 437,494.8 C435.52,500.25 437.17,505.63 430,507.8 C422.83,509.97 401.35,509.97 394,507.8 C386.65,505.63 387.25,500.25 385.9,494.8 C384.55,489.35 385.9,481.65 385.9,475.1 C385.9,468.55 385.08,462.03 385.9,455.5 C386.72,448.97 389.5,440.82 390.8,435.9 C392.1,430.98 393.22,429.27 393.7,426 C394.18,422.73 393.7,419.57 393.7,416.3 C393.7,413.03 393.53,409.68 393.7,406.4 C393.87,403.12 394.03,399.53 394.7,396.6 C395.37,393.67 396.73,391.5 397.7,388.8 C398.67,386.1 398.95,381.8 400.5,380.4 C402.05,379 403.87,379 407,380.4 Z" fill="url(#furv)"/><path d="M65,527.4 C66.96,527.89 68.9,529.13 70.23,530.36 C71.56,531.59 71.36,532.76 73,534.8 C74.64,536.84 78.75,539.67 80.1,542.6 C81.45,545.53 80.77,549.12 81.1,552.4 C81.43,555.68 81.62,559.02 82.1,562.3 C82.58,565.58 83.52,568.83 84,572.1 C84.48,575.37 84.5,577 85,581.9 C85.5,586.8 86.67,594.97 87,601.5 C87.33,608.03 87.33,614.55 87,621.1 C86.67,627.65 86.5,635.38 85,640.8 C83.5,646.22 83.5,651.47 78,653.6 C72.5,655.73 57.7,655.73 52,653.6 C46.3,651.47 45.33,646.22 43.8,640.8 C42.27,635.38 42.97,627.65 42.8,621.1 C42.63,614.55 42.47,608.03 42.8,601.5 C43.13,594.97 44.3,586.8 44.8,581.9 C45.3,577 45.8,575.37 45.8,572.1 C45.8,568.83 44.52,565.58 44.8,562.3 C45.08,559.02 46.52,555.68 47.5,552.4 C48.48,549.12 49.85,545.53 50.7,542.6 C51.55,539.67 52,536.84 52.6,534.8 C53.2,532.76 53.34,531.59 54.32,530.36 C55.3,529.13 56.72,527.89 58.5,527.4 C60.28,526.91 63.04,526.91 65,527.4 Z" fill="url(#furh)"/><path d="M65,527.4 C66.96,527.89 68.9,529.13 70.23,530.36 C71.56,531.59 71.36,532.76 73,534.8 C74.64,536.84 78.75,539.67 80.1,542.6 C81.45,545.53 80.77,549.12 81.1,552.4 C81.43,555.68 81.62,559.02 82.1,562.3 C82.58,565.58 83.52,568.83 84,572.1 C84.48,575.37 84.5,577 85,581.9 C85.5,586.8 86.67,594.97 87,601.5 C87.33,608.03 87.33,614.55 87,621.1 C86.67,627.65 86.5,635.38 85,640.8 C83.5,646.22 83.5,651.47 78,653.6 C72.5,655.73 57.7,655.73 52,653.6 C46.3,651.47 45.33,646.22 43.8,640.8 C42.27,635.38 42.97,627.65 42.8,621.1 C42.63,614.55 42.47,608.03 42.8,601.5 C43.13,594.97 44.3,586.8 44.8,581.9 C45.3,577 45.8,575.37 45.8,572.1 C45.8,568.83 44.52,565.58 44.8,562.3 C45.08,559.02 46.52,555.68 47.5,552.4 C48.48,549.12 49.85,545.53 50.7,542.6 C51.55,539.67 52,536.84 52.6,534.8 C53.2,532.76 53.34,531.59 54.32,530.36 C55.3,529.13 56.72,527.89 58.5,527.4 C60.28,526.91 63.04,526.91 65,527.4 Z" fill="url(#furv)"/><path d="M124.5,527.4 C126.47,528.63 128.18,532.27 130.3,534.8 C132.42,537.33 135.57,539.67 137.2,542.6 C138.83,545.53 139.28,549.12 140.1,552.4 C140.92,555.68 141.62,557.38 142.1,562.3 C142.58,567.22 142.52,575.37 143,581.9 C143.48,588.43 144.67,594.97 145,601.5 C145.33,608.03 145,614.55 145,621.1 C145,627.65 146.17,635.38 145,640.8 C143.83,646.22 144.17,651.47 138,653.6 C131.83,655.73 114.35,655.73 108,653.6 C101.65,651.47 101.25,646.22 99.9,640.8 C98.55,635.38 99.73,627.65 99.9,621.1 C100.07,614.55 100.58,608.03 100.9,601.5 C101.22,594.97 101.65,588.43 101.8,581.9 C101.95,575.37 101.6,567.22 101.8,562.3 C102,557.38 102.02,555.68 103,552.4 C103.98,549.12 105.77,545.53 107.7,542.6 C109.63,539.67 112.8,537.33 114.6,534.8 C116.4,532.27 116.85,528.63 118.5,527.4 C120.15,526.17 122.53,526.17 124.5,527.4 Z" fill="url(#furh)"/><path d="M124.5,527.4 C126.47,528.63 128.18,532.27 130.3,534.8 C132.42,537.33 135.57,539.67 137.2,542.6 C138.83,545.53 139.28,549.12 140.1,552.4 C140.92,555.68 141.62,557.38 142.1,562.3 C142.58,567.22 142.52,575.37 143,581.9 C143.48,588.43 144.67,594.97 145,601.5 C145.33,608.03 145,614.55 145,621.1 C145,627.65 146.17,635.38 145,640.8 C143.83,646.22 144.17,651.47 138,653.6 C131.83,655.73 114.35,655.73 108,653.6 C101.65,651.47 101.25,646.22 99.9,640.8 C98.55,635.38 99.73,627.65 99.9,621.1 C100.07,614.55 100.58,608.03 100.9,601.5 C101.22,594.97 101.65,588.43 101.8,581.9 C101.95,575.37 101.6,567.22 101.8,562.3 C102,557.38 102.02,555.68 103,552.4 C103.98,549.12 105.77,545.53 107.7,542.6 C109.63,539.67 112.8,537.33 114.6,534.8 C116.4,532.27 116.85,528.63 118.5,527.4 C120.15,526.17 122.53,526.17 124.5,527.4 Z" fill="url(#furv)"/><path d="M178,527.4 C180.91,527.89 182.6,529.13 184.48,530.36 C186.37,531.59 187.71,532.76 189.3,534.8 C190.89,536.84 192.72,539.67 194,542.6 C195.28,545.53 196.48,549.12 197,552.4 C197.52,555.68 196.75,557.38 197.1,562.3 C197.45,567.22 198.45,575.37 199.1,581.9 C199.75,588.43 200.52,594.97 201,601.5 C201.48,608.03 201.83,614.55 202,621.1 C202.17,627.65 203,635.38 202,640.8 C201,646.22 202.17,651.47 196,653.6 C189.83,655.73 171.52,655.73 165,653.6 C158.48,651.47 158.08,646.22 156.9,640.8 C155.72,635.38 157.42,627.65 157.9,621.1 C158.38,614.55 159.32,608.03 159.8,601.5 C160.28,594.97 160.63,588.43 160.8,581.9 C160.97,575.37 160.97,567.22 160.8,562.3 C160.63,557.38 159.8,555.68 159.8,552.4 C159.8,549.12 160.15,545.53 160.8,542.6 C161.45,539.67 163.08,536.84 163.7,534.8 C164.32,532.76 163.97,531.59 164.52,530.36 C165.07,529.13 164.75,527.89 167,527.4 C169.25,526.91 175.09,526.91 178,527.4 Z" fill="url(#furh)"/><path d="M178,527.4 C180.91,527.89 182.6,529.13 184.48,530.36 C186.37,531.59 187.71,532.76 189.3,534.8 C190.89,536.84 192.72,539.67 194,542.6 C195.28,545.53 196.48,549.12 197,552.4 C197.52,555.68 196.75,557.38 197.1,562.3 C197.45,567.22 198.45,575.37 199.1,581.9 C199.75,588.43 200.52,594.97 201,601.5 C201.48,608.03 201.83,614.55 202,621.1 C202.17,627.65 203,635.38 202,640.8 C201,646.22 202.17,651.47 196,653.6 C189.83,655.73 171.52,655.73 165,653.6 C158.48,651.47 158.08,646.22 156.9,640.8 C155.72,635.38 157.42,627.65 157.9,621.1 C158.38,614.55 159.32,608.03 159.8,601.5 C160.28,594.97 160.63,588.43 160.8,581.9 C160.97,575.37 160.97,567.22 160.8,562.3 C160.63,557.38 159.8,555.68 159.8,552.4 C159.8,549.12 160.15,545.53 160.8,542.6 C161.45,539.67 163.08,536.84 163.7,534.8 C164.32,532.76 163.97,531.59 164.52,530.36 C165.07,529.13 164.75,527.89 167,527.4 C169.25,526.91 175.09,526.91 178,527.4 Z" fill="url(#furv)"/><path d="M237.5,527.4 C239.97,528.63 244.18,532.27 246.3,534.8 C248.42,537.33 249.07,539.67 250.2,542.6 C251.33,545.53 252.28,549.12 253.1,552.4 C253.92,555.68 254.45,557.38 255.1,562.3 C255.75,567.22 256.35,575.37 257,581.9 C257.65,588.43 258.5,594.97 259,601.5 C259.5,608.03 259.83,614.55 260,621.1 C260.17,627.65 261,635.38 260,640.8 C259,646.22 260,651.47 254,653.6 C248,655.73 230.2,655.73 224,653.6 C217.8,651.47 218.32,646.22 216.8,640.8 C215.28,635.38 215.22,627.65 214.9,621.1 C214.58,614.55 214.75,608.03 214.9,601.5 C215.05,594.97 215.32,588.43 215.8,581.9 C216.28,575.37 217.13,567.22 217.8,562.3 C218.47,557.38 218.98,555.68 219.8,552.4 C220.62,549.12 221.57,545.53 222.7,542.6 C223.83,539.67 225.13,537.33 226.6,534.8 C228.07,532.27 229.68,528.63 231.5,527.4 C233.32,526.17 235.03,526.17 237.5,527.4 Z" fill="url(#furh)"/><path d="M237.5,527.4 C239.97,528.63 244.18,532.27 246.3,534.8 C248.42,537.33 249.07,539.67 250.2,542.6 C251.33,545.53 252.28,549.12 253.1,552.4 C253.92,555.68 254.45,557.38 255.1,562.3 C255.75,567.22 256.35,575.37 257,581.9 C257.65,588.43 258.5,594.97 259,601.5 C259.5,608.03 259.83,614.55 260,621.1 C260.17,627.65 261,635.38 260,640.8 C259,646.22 260,651.47 254,653.6 C248,655.73 230.2,655.73 224,653.6 C217.8,651.47 218.32,646.22 216.8,640.8 C215.28,635.38 215.22,627.65 214.9,621.1 C214.58,614.55 214.75,608.03 214.9,601.5 C215.05,594.97 215.32,588.43 215.8,581.9 C216.28,575.37 217.13,567.22 217.8,562.3 C218.47,557.38 218.98,555.68 219.8,552.4 C220.62,549.12 221.57,545.53 222.7,542.6 C223.83,539.67 225.13,537.33 226.6,534.8 C228.07,532.27 229.68,528.63 231.5,527.4 C233.32,526.17 235.03,526.17 237.5,527.4 Z" fill="url(#furv)"/><path d="M303,526.6 C306.85,527.01 307.2,528.05 309.12,529.08 C311.04,530.11 313.84,530.55 314.5,532.8 C315.16,535.05 313.5,539.33 313.1,542.6 C312.7,545.87 312.1,549.12 312.1,552.4 C312.1,555.68 312.62,557.38 313.1,562.3 C313.58,567.22 314.35,575.37 315,581.9 C315.65,588.43 316.33,594.97 317,601.5 C317.67,608.03 318.5,614.55 319,621.1 C319.5,627.65 321,635.38 320,640.8 C319,646.22 319.67,651.47 313,653.6 C306.33,655.73 286.85,655.73 280,653.6 C273.15,651.47 273.1,646.22 271.9,640.8 C270.7,635.38 272.32,627.65 272.8,621.1 C273.28,614.55 274.13,608.03 274.8,601.5 C275.47,594.97 276.15,588.43 276.8,581.9 C277.45,575.37 278.22,567.22 278.7,562.3 C279.18,557.38 279.37,555.68 279.7,552.4 C280.03,549.12 280.4,545.87 280.7,542.6 C281,539.33 281.05,535.05 281.5,532.8 C281.95,530.55 282.63,530.11 283.38,529.08 C284.13,528.05 282.73,527.01 286,526.6 C289.27,526.19 299.15,526.19 303,526.6 Z" fill="url(#furh)"/><path d="M303,526.6 C306.85,527.01 307.2,528.05 309.12,529.08 C311.04,530.11 313.84,530.55 314.5,532.8 C315.16,535.05 313.5,539.33 313.1,542.6 C312.7,545.87 312.1,549.12 312.1,552.4 C312.1,555.68 312.62,557.38 313.1,562.3 C313.58,567.22 314.35,575.37 315,581.9 C315.65,588.43 316.33,594.97 317,601.5 C317.67,608.03 318.5,614.55 319,621.1 C319.5,627.65 321,635.38 320,640.8 C319,646.22 319.67,651.47 313,653.6 C306.33,655.73 286.85,655.73 280,653.6 C273.15,651.47 273.1,646.22 271.9,640.8 C270.7,635.38 272.32,627.65 272.8,621.1 C273.28,614.55 274.13,608.03 274.8,601.5 C275.47,594.97 276.15,588.43 276.8,581.9 C277.45,575.37 278.22,567.22 278.7,562.3 C279.18,557.38 279.37,555.68 279.7,552.4 C280.03,549.12 280.4,545.87 280.7,542.6 C281,539.33 281.05,535.05 281.5,532.8 C281.95,530.55 282.63,530.11 283.38,529.08 C284.13,528.05 282.73,527.01 286,526.6 C289.27,526.19 299.15,526.19 303,526.6 Z" fill="url(#furv)"/><path d="M357.5,526.6 C360.12,527.97 363.43,532.13 365.2,534.8 C366.97,537.47 367.12,539.67 368.1,542.6 C369.08,545.53 370.12,549.12 371.1,552.4 C372.08,555.68 373.18,557.38 374,562.3 C374.82,567.22 375.5,575.37 376,581.9 C376.5,588.43 376.67,594.97 377,601.5 C377.33,608.03 377.68,614.55 378,621.1 C378.32,627.65 379.9,635.38 378.9,640.8 C377.9,646.22 378.82,651.47 372,653.6 C365.18,655.73 344.87,655.73 338,653.6 C331.13,651.47 332,646.22 330.8,640.8 C329.6,635.38 330.8,627.65 330.8,621.1 C330.8,614.55 330.47,608.03 330.8,601.5 C331.13,594.97 331.98,588.43 332.8,581.9 C333.62,575.37 334.88,567.22 335.7,562.3 C336.52,557.38 336.88,555.68 337.7,552.4 C338.52,549.12 339.45,545.53 340.6,542.6 C341.75,539.67 343.12,537.47 344.6,534.8 C346.08,532.13 347.35,527.97 349.5,526.6 C351.65,525.23 354.88,525.23 357.5,526.6 Z" fill="url(#furh)"/><path d="M357.5,526.6 C360.12,527.97 363.43,532.13 365.2,534.8 C366.97,537.47 367.12,539.67 368.1,542.6 C369.08,545.53 370.12,549.12 371.1,552.4 C372.08,555.68 373.18,557.38 374,562.3 C374.82,567.22 375.5,575.37 376,581.9 C376.5,588.43 376.67,594.97 377,601.5 C377.33,608.03 377.68,614.55 378,621.1 C378.32,627.65 379.9,635.38 378.9,640.8 C377.9,646.22 378.82,651.47 372,653.6 C365.18,655.73 344.87,655.73 338,653.6 C331.13,651.47 332,646.22 330.8,640.8 C329.6,635.38 330.8,627.65 330.8,621.1 C330.8,614.55 330.47,608.03 330.8,601.5 C331.13,594.97 331.98,588.43 332.8,581.9 C333.62,575.37 334.88,567.22 335.7,562.3 C336.52,557.38 336.88,555.68 337.7,552.4 C338.52,549.12 339.45,545.53 340.6,542.6 C341.75,539.67 343.12,537.47 344.6,534.8 C346.08,532.13 347.35,527.97 349.5,526.6 C351.65,525.23 354.88,525.23 357.5,526.6 Z" fill="url(#furv)"/><path d="M415.7,524.8 C417.4,525.58 418.37,527.8 419.5,529.5 C420.63,531.2 421.37,532.82 422.5,535 C423.63,537.18 425.37,539.7 426.3,542.6 C427.23,545.5 427.32,549.12 428.1,552.4 C428.88,555.68 429.85,557.38 431,562.3 C432.15,567.22 433.85,575.37 435,581.9 C436.15,588.43 437.25,594.97 437.9,601.5 C438.55,608.03 439.07,614.55 438.9,621.1 C438.73,627.65 438.38,635.38 436.9,640.8 C435.42,646.22 436.48,651.47 430,653.6 C423.52,655.73 404.53,655.73 398,653.6 C391.47,651.47 392.33,646.22 390.8,640.8 C389.27,635.38 389.13,627.65 388.8,621.1 C388.47,614.55 388.47,608.03 388.8,601.5 C389.13,594.97 389.98,588.43 390.8,581.9 C391.62,575.37 392.88,567.22 393.7,562.3 C394.52,557.38 394.77,555.68 395.7,552.4 C396.63,549.12 398.17,545.5 399.3,542.6 C400.43,539.7 401.47,537.18 402.5,535 C403.53,532.82 404.37,531.2 405.5,529.5 C406.63,527.8 407.6,525.58 409.3,524.8 C411,524.02 414,524.02 415.7,524.8 Z" fill="url(#furh)"/><path d="M415.7,524.8 C417.4,525.58 418.37,527.8 419.5,529.5 C420.63,531.2 421.37,532.82 422.5,535 C423.63,537.18 425.37,539.7 426.3,542.6 C427.23,545.5 427.32,549.12 428.1,552.4 C428.88,555.68 429.85,557.38 431,562.3 C432.15,567.22 433.85,575.37 435,581.9 C436.15,588.43 437.25,594.97 437.9,601.5 C438.55,608.03 439.07,614.55 438.9,621.1 C438.73,627.65 438.38,635.38 436.9,640.8 C435.42,646.22 436.48,651.47 430,653.6 C423.52,655.73 404.53,655.73 398,653.6 C391.47,651.47 392.33,646.22 390.8,640.8 C389.27,635.38 389.13,627.65 388.8,621.1 C388.47,614.55 388.47,608.03 388.8,601.5 C389.13,594.97 389.98,588.43 390.8,581.9 C391.62,575.37 392.88,567.22 393.7,562.3 C394.52,557.38 394.77,555.68 395.7,552.4 C396.63,549.12 398.17,545.5 399.3,542.6 C400.43,539.7 401.47,537.18 402.5,535 C403.53,532.82 404.37,531.2 405.5,529.5 C406.63,527.8 407.6,525.58 409.3,524.8 C411,524.02 414,524.02 415.7,524.8 Z" fill="url(#furv)"/><g filter="url(#bl1)"><ellipse cx="63.5" cy="398" rx="6.5" ry="10" fill="#7f969c" opacity="0.2"/><ellipse cx="118.5" cy="397" rx="6.5" ry="10" fill="#7f969c" opacity="0.2"/><ellipse cx="188" cy="400" rx="6.5" ry="10" fill="#7f969c" opacity="0.2"/><ellipse cx="242" cy="398" rx="6.5" ry="10" fill="#7f969c" opacity="0.2"/><ellipse cx="295.5" cy="399" rx="6.5" ry="10" fill="#7f969c" opacity="0.2"/><ellipse cx="358" cy="401" rx="6.5" ry="10" fill="#7f969c" opacity="0.2"/><ellipse cx="404" cy="397" rx="6.5" ry="10" fill="#7f969c" opacity="0.2"/><ellipse cx="63" cy="539" rx="8" ry="9" fill="#7f969c" opacity="0.32"/><ellipse cx="60.7" cy="540" rx="1.6" ry="1.6" fill="#5e7075" opacity="0.55"/><ellipse cx="65.3" cy="540" rx="1.6" ry="1.6" fill="#5e7075" opacity="0.55"/><ellipse cx="54" cy="557" rx="3.5" ry="3" fill="#7f949a" opacity="0.45"/><ellipse cx="72" cy="558" rx="3.5" ry="3" fill="#7f949a" opacity="0.45"/><ellipse cx="121.5" cy="539" rx="8" ry="9" fill="#7f969c" opacity="0.32"/><ellipse cx="119.2" cy="540" rx="1.6" ry="1.6" fill="#5e7075" opacity="0.55"/><ellipse cx="123.8" cy="540" rx="1.6" ry="1.6" fill="#5e7075" opacity="0.55"/><ellipse cx="112.5" cy="557" rx="3.5" ry="3" fill="#7f949a" opacity="0.45"/><ellipse cx="130.5" cy="558" rx="3.5" ry="3" fill="#7f949a" opacity="0.45"/><ellipse cx="172.5" cy="539" rx="8" ry="9" fill="#7f969c" opacity="0.32"/><ellipse cx="170.2" cy="540" rx="1.6" ry="1.6" fill="#5e7075" opacity="0.55"/><ellipse cx="174.8" cy="540" rx="1.6" ry="1.6" fill="#5e7075" opacity="0.55"/><ellipse cx="163.5" cy="557" rx="3.5" ry="3" fill="#7f949a" opacity="0.45"/><ellipse cx="181.5" cy="558" rx="3.5" ry="3" fill="#7f949a" opacity="0.45"/><ellipse cx="234.5" cy="539" rx="8" ry="9" fill="#7f969c" opacity="0.32"/><ellipse cx="232.2" cy="540" rx="1.6" ry="1.6" fill="#5e7075" opacity="0.55"/><ellipse cx="236.8" cy="540" rx="1.6" ry="1.6" fill="#5e7075" opacity="0.55"/><ellipse cx="225.5" cy="557" rx="3.5" ry="3" fill="#7f949a" opacity="0.45"/><ellipse cx="243.5" cy="558" rx="3.5" ry="3" fill="#7f949a" opacity="0.45"/><ellipse cx="295.5" cy="538" rx="8" ry="9" fill="#7f969c" opacity="0.32"/><ellipse cx="293.2" cy="539" rx="1.6" ry="1.6" fill="#5e7075" opacity="0.55"/><ellipse cx="297.8" cy="539" rx="1.6" ry="1.6" fill="#5e7075" opacity="0.55"/><ellipse cx="286.5" cy="556" rx="3.5" ry="3" fill="#7f949a" opacity="0.45"/><ellipse cx="304.5" cy="557" rx="3.5" ry="3" fill="#7f949a" opacity="0.45"/><ellipse cx="353.4" cy="538" rx="8" ry="9" fill="#7f969c" opacity="0.32"/><ellipse cx="351.1" cy="539" rx="1.6" ry="1.6" fill="#5e7075" opacity="0.55"/><ellipse cx="355.7" cy="539" rx="1.6" ry="1.6" fill="#5e7075" opacity="0.55"/><ellipse cx="344.4" cy="556" rx="3.5" ry="3" fill="#7f949a" opacity="0.45"/><ellipse cx="362.4" cy="557" rx="3.5" ry="3" fill="#7f949a" opacity="0.45"/><ellipse cx="412.4" cy="536" rx="8" ry="9" fill="#7f969c" opacity="0.32"/><ellipse cx="410.1" cy="537" rx="1.6" ry="1.6" fill="#5e7075" opacity="0.55"/><ellipse cx="414.7" cy="537" rx="1.6" ry="1.6" fill="#5e7075" opacity="0.55"/><ellipse cx="403.4" cy="554" rx="3.5" ry="3" fill="#7f949a" opacity="0.45"/><ellipse cx="421.4" cy="555" rx="3.5" ry="3" fill="#7f949a" opacity="0.45"/></g></g>
<g clip-path="url(#mc0)"><g filter="url(#rag)"><path d="M34,437 C38,423 90,421 95,437 L95,515 L34,515Z" fill="#6c28ea"/><ellipse cx="90" cy="451" rx="3.5" ry="6" fill="#6c28ea"/></g><g filter="url(#bl1)"><path d="M41.5,442 C45,431 83,430 87,442 L87.5,493 C85,503 46,503 43,493Z" fill="#2a3af2"/><ellipse cx="52" cy="470" rx="9" ry="22" fill="#3048f4" opacity="0.6"/></g></g>
<g filter="url(#bl1)"><ellipse cx="47.5" cy="453.2" rx="5.5" ry="6" fill="#2f8cf6"/><ellipse cx="47.3" cy="453.2" rx="2.8" ry="3.2" fill="#38c8f0"/><path d="M58.5,444 C60.5,441.75 66.08,441.67 70,441.5 C73.92,441.33 79.83,441.25 82,443 C84.17,444.75 83.17,449 83,452 C82.83,455 83.17,459.25 81,461 C78.83,462.75 73.33,462.08 70,462.5 C66.67,462.92 63,464.75 61,463.5 C59,462.25 58.42,458.25 58,455 C57.58,451.75 56.5,446.25 58.5,444 Z" fill="#26dcf0"/><path d="M60.5,446 C62.17,444.33 66.67,444.17 70,444 C73.33,443.83 78.67,443.67 80.5,445 C82.33,446.33 81.17,449.58 81,452 C80.83,454.42 81.33,458.08 79.5,459.5 C77.67,460.92 72.92,460.33 70,460.5 C67.08,460.67 63.67,461.58 62,460.5 C60.33,459.42 60.25,456.42 60,454 C59.75,451.58 58.83,447.67 60.5,446 Z" fill="#36e03a"/><path d="M63,448 C64.25,447 67.58,446.92 70,447 C72.42,447.08 76.17,447.58 77.5,448.5 C78.83,449.42 78.17,451.17 78,452.5 C77.83,453.83 77.83,455.5 76.5,456.5 C75.17,457.5 72.17,458.25 70,458.5 C67.83,458.75 64.75,458.92 63.5,458 C62.25,457.08 62.58,454.67 62.5,453 C62.42,451.33 61.75,449 63,448 Z" fill="#eef022"/><path d="M64,448.6 C65.13,446.97 68.83,447.33 71,447.6 C73.17,447.87 76.08,448.93 77,450.2 C77.92,451.47 77.67,453.9 76.5,455.2 C75.33,456.5 72.05,457.63 70,458 C67.95,458.37 65.2,458.97 64.2,457.4 C63.2,455.83 62.87,450.23 64,448.6 Z" fill="#f2201e"/><ellipse cx="72" cy="477.5" rx="6.4" ry="16.5" fill="#26dcf0" transform="rotate(38 72 477.5)"/><ellipse cx="72.6" cy="475" rx="4.8" ry="12" fill="#36e03a" transform="rotate(38 72.6 475)"/><ellipse cx="68.8" cy="476.5" rx="2.2" ry="2.2" fill="#b8f030"/></g>
<g filter="url(#rag)"><ellipse cx="127.5" cy="462" rx="17" ry="24.5" fill="#6c28ea"/></g>
<g filter="url(#bl2)"><ellipse cx="127" cy="461" rx="11" ry="18" fill="#4a26ee"/><ellipse cx="127.3" cy="452" rx="6.5" ry="7" fill="#3024f0"/><ellipse cx="128" cy="471" rx="9" ry="7" fill="#3024f0"/></g><g filter="url(#bl1)"><ellipse cx="127.3" cy="450.6" rx="3" ry="3" fill="#2f7cf6"/></g>
<g filter="url(#rag)"><ellipse cx="172.6" cy="455.5" rx="7.5" ry="7" fill="#6c28ea"/><ellipse cx="188.3" cy="456.5" rx="10.5" ry="7.5" fill="#6c28ea"/><ellipse cx="182.4" cy="476.6" rx="7" ry="10.3" fill="#6c28ea"/><ellipse cx="180" cy="456" rx="6" ry="5" fill="#6c28ea"/></g>
<g filter="url(#bl1)"><ellipse cx="187.3" cy="457.5" rx="6" ry="4.5" fill="#3024f0"/><ellipse cx="182.5" cy="477" rx="3.5" ry="6" fill="#4a26ee"/><ellipse cx="173" cy="455.5" rx="3.5" ry="3.5" fill="#4a26ee"/></g>
<g filter="url(#rag)"><ellipse cx="238.4" cy="457.4" rx="12.8" ry="8.8" fill="#6c28ea"/><ellipse cx="239.4" cy="474.6" rx="5.5" ry="4" fill="#6c28ea"/></g>
<g filter="url(#bl1)"><ellipse cx="239.4" cy="457.5" rx="8" ry="6" fill="#3024f0"/></g>
<g filter="url(#rag)"><ellipse cx="303.5" cy="452.5" rx="15.7" ry="12.8" fill="#6c28ea"/><ellipse cx="298.8" cy="473.6" rx="5" ry="4.2" fill="#6c28ea"/><ellipse cx="286" cy="452" rx="5" ry="8" fill="#6c28ea" opacity="0.45"/></g>
<g filter="url(#bl1)"><ellipse cx="305" cy="453.5" rx="12" ry="9" fill="#3024f0"/><ellipse cx="309.1" cy="452.6" rx="5.5" ry="4.5" fill="#2f7cf6"/><ellipse cx="309.1" cy="452.6" rx="3" ry="2.5" fill="#26dcf0"/></g>
<g filter="url(#rag)"><path d="M343,449 C345.5,447.08 354.17,446.83 360,446.5 C365.83,446.17 375.17,444.75 378,447 C380.83,449.25 378.67,456.17 377,460 C375.33,463.83 370.67,467.5 368,470 C365.33,472.5 363.5,475.5 361,475 C358.5,474.5 355.67,469.83 353,467 C350.33,464.17 346.67,461 345,458 C343.33,455 340.5,450.92 343,449 Z" fill="#6c28ea"/><ellipse cx="338" cy="447" rx="6" ry="6" fill="#6c28ea" opacity="0.4"/></g>
<g filter="url(#bl1)"><path d="M348,451 C349.33,448.83 357.67,450.17 362,450 C366.33,449.83 372.17,448.33 374,450 C375.83,451.67 374.33,457.17 373,460 C371.67,462.83 368.17,465.33 366,467 C363.83,468.67 362,470.67 360,470 C358,469.33 356,466.17 354,463 C352,459.83 346.67,453.17 348,451 Z" fill="#3024f0"/><ellipse cx="364.2" cy="460.9" rx="6" ry="3.5" fill="#26dcf0"/></g>
<g filter="url(#rag)"><ellipse cx="427.5" cy="452.5" rx="8.3" ry="14.5" fill="#7428e2"/></g>
<g filter="url(#bl1)"><ellipse cx="425.5" cy="444" rx="4" ry="4" fill="#c47cf0" opacity="0.9"/><ellipse cx="430" cy="446" rx="2.5" ry="3" fill="#c47cf0" opacity="0.8"/><ellipse cx="429.5" cy="459" rx="6" ry="7.5" fill="#5a1ee2"/></g>
<g clip-path="url(#mc7)"><g filter="url(#rag)"><path d="M36,585 C38,568 92,568 94,585 L94,660 L36,660Z" fill="#6c28ea"/></g><g filter="url(#bl1)"><path d="M42,592 C45,577 86,577 88,592 L88,633 C86,650 46,650 43,633Z" fill="#2a3af2"/><ellipse cx="65" cy="582" rx="18" ry="7" fill="#4a2cf0" opacity="0.7"/></g></g>
<g filter="url(#bl1)"><path d="M50.5,592 C51.33,590.17 54.08,589.83 56,590 C57.92,590.17 59.67,592.83 62,593 C64.33,593.17 67,591.17 70,591 C73,590.83 77.83,590.83 80,592 C82.17,593.17 82.67,595.67 83,598 C83.33,600.33 83,603.92 82,606 C81,608.08 78.33,608.67 77,610.5 C75.67,612.33 75.08,615 74,617 C72.92,619 71.75,621.75 70.5,622.5 C69.25,623.25 67.25,622.92 66.5,621.5 C65.75,620.08 67,615.75 66,614 C65,612.25 62.25,612.42 60.5,611 C58.75,609.58 57.08,607.17 55.5,605.5 C53.92,603.83 51.83,603.25 51,601 C50.17,598.75 49.67,593.83 50.5,592 Z" fill="#26dcf0" opacity="0.72"/><ellipse cx="71.5" cy="601" rx="12" ry="10" fill="#30d8e0"/><ellipse cx="71.5" cy="601" rx="10.5" ry="8.8" fill="#36e03a"/><ellipse cx="71.5" cy="601" rx="9.2" ry="7.6" fill="#eef022"/><path d="M64,598 C64.83,596.25 67.83,595 70,594.5 C72.17,594 75.42,594.08 77,595 C78.58,595.92 79.42,598.25 79.5,600 C79.58,601.75 78.92,604.25 77.5,605.5 C76.08,606.75 73.08,607.58 71,607.5 C68.92,607.42 66.17,606.58 65,605 C63.83,603.42 63.17,599.75 64,598 Z" fill="#f2201e"/><ellipse cx="68.3" cy="560.3" rx="2.5" ry="2" fill="#8a8ee8"/></g>
<g filter="url(#rag)"><ellipse cx="125.4" cy="600.5" rx="19.6" ry="10.8" fill="#6c28ea"/><ellipse cx="120.5" cy="624" rx="14.5" ry="15" fill="#7030e8" opacity="0.85"/><ellipse cx="112" cy="615" rx="5" ry="7" fill="#6c28ea" opacity="0.6"/></g>
<g filter="url(#bl1)"><ellipse cx="128.5" cy="600.5" rx="14" ry="7.5" fill="#3024f0"/><ellipse cx="125.5" cy="623" rx="8.5" ry="8" fill="#3a28ee" opacity="0.9"/><ellipse cx="129.3" cy="600" rx="8" ry="2.6" fill="#2f7cf6"/><ellipse cx="130" cy="600" rx="4" ry="1.3" fill="#40b0f8"/></g>
<g filter="url(#bl1)"><ellipse cx="179.5" cy="604" rx="8" ry="4.4" fill="#4a24ee"/><ellipse cx="179.5" cy="604" rx="6" ry="3" fill="#2a24f2"/></g>
<rect x="449.4" y="381.3" width="13.4" height="239" fill="url(#cbar)" stroke="#444" stroke-width="0.6"/>
<path d="M462.8,382.9H469.3M462.8,387.68H465.8M462.8,392.46H465.8M462.8,397.24H465.8M462.8,402.02H465.8M462.8,406.8H467.3M462.8,411.58H465.8M462.8,416.36H465.8M462.8,421.14H465.8M462.8,425.92H465.8M462.8,430.7H469.3M462.8,435.48H465.8M462.8,440.26H465.8M462.8,445.04H465.8M462.8,449.82H465.8M462.8,454.6H467.3M462.8,459.38H465.8M462.8,464.16H465.8M462.8,468.94H465.8M462.8,473.72H465.8M462.8,478.5H469.3M462.8,483.28H465.8M462.8,488.06H465.8M462.8,492.84H465.8M462.8,497.62H465.8M462.8,502.4H467.3M462.8,507.18H465.8M462.8,511.96H465.8M462.8,516.74H465.8M462.8,521.52H465.8M462.8,526.3H469.3M462.8,531.08H465.8M462.8,535.86H465.8M462.8,540.64H465.8M462.8,545.42H465.8M462.8,550.2H467.3M462.8,554.98H465.8M462.8,559.76H465.8M462.8,564.54H465.8M462.8,569.32H465.8M462.8,574.1H469.3M462.8,578.88H465.8M462.8,583.66H465.8M462.8,588.44H465.8M462.8,593.22H465.8M462.8,598H467.3M462.8,602.78H465.8M462.8,607.56H465.8M462.8,612.34H465.8M462.8,617.12H465.8" stroke="#333" stroke-width="0.8"/>
<text x="475" y="577.5" font-size="9.5" text-anchor="middle" fill="#222">1</text>
<text x="475" y="529.7" font-size="9.5" text-anchor="middle" fill="#222">2</text>
<text x="475" y="481.9" font-size="9.5" text-anchor="middle" fill="#222">3</text>
<text x="475" y="434.1" font-size="9.5" text-anchor="middle" fill="#222">4</text>
<text x="475" y="386.3" font-size="9.5" text-anchor="middle" fill="#222">5</text>
<text transform="translate(495.6,503.5) rotate(90)" font-size="8.7" font-weight="bold" text-anchor="middle">ffLuc [p/s/cm<tspan font-size="5.4" dy="-3.2">2</tspan><tspan dy="3.2">/sr] x 10</tspan><tspan font-size="5.4" dy="2.6">6</tspan></text>
<rect x="449.8" y="625" width="52.6" height="34.2" fill="#fff" stroke="#333" stroke-width="0.9"/>
<text x="476.1" y="634.6" font-size="8" font-weight="bold" text-anchor="middle">Color Bar</text>
<text x="476.1" y="643.6" font-size="8" font-weight="bold" text-anchor="middle">Min = 50000</text>
<text x="476.1" y="652.6" font-size="8" font-weight="bold" text-anchor="middle">Max = 5e+06</text>
<rect x="0.5" y="0.5" width="519" height="676" fill="none" stroke="#000" stroke-width="1.2"/>
</svg></body></html>
